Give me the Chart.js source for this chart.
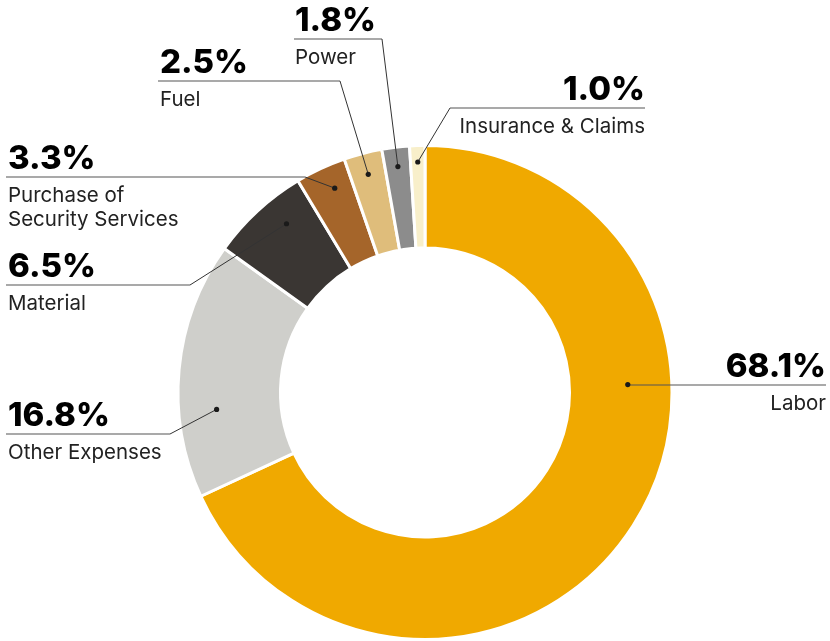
<!DOCTYPE html>
<html>
<head>
<meta charset="utf-8">
<script src="https://cdn.jsdelivr.net/npm/chart.js@4.4.1/dist/chart.umd.min.js"></script>
<style>
    html, body { margin: 0; padding: 0; background: #fff; }
    #costChart { display: block; }
</style>
</head>
<body>
<canvas id="costChart" width="830" height="641"></canvas>
<script>
// Cost breakdown (share of total, %)
const categories = ['Labor', 'Other Expenses', 'Material', 'Purchase of\nSecurity Services', 'Fuel', 'Power', 'Insurance & Claims'];
const shares = [68.1, 16.8, 6.5, 3.3, 2.5, 1.8, 1.0];
const shareLabels = ['68.1%', '16.8%', '6.5%', '3.3%', '2.5%', '1.8%', '1.0%'];
const colors = ['#f0a900', '#cfcfcb', '#3a3633', '#a5652a', '#dfbd7b', '#8c8c8c', '#f8efca'];

// where each callout sits (text block + underline), and where on the slice the dot goes
const callouts = [
    { align: 'right', tx: 826, uy: 385, ux1: 628, ux2: 826, elbow: 628, af: 0.358, rf: 0.57 },
    { align: 'left',  tx: 8,   uy: 434, ux1: 6,   ux2: 170, elbow: 170, af: 0.334, rf: 0.63 },
    { align: 'left',  tx: 8,   uy: 285, ux1: 6,   ux2: 190, elbow: 190, af: 0.64,  rf: 0.72 },
    { align: 'left',  tx: 8,   uy: 177, ux1: 6,   ux2: 305, elbow: 305, af: 0.6,   rf: 0.77 },
    { align: 'left',  tx: 160, uy: 81,  ux1: 158, ux2: 340, elbow: 340, af: 0.5,   rf: 0.79 },
    { align: 'left',  tx: 295, uy: 39,  ux1: 294, ux2: 382, elbow: 382, af: 0.5,   rf: 0.81 },
    { align: 'right', tx: 645, uy: 108, ux1: 450, ux2: 645, elbow: 450, af: 0.5,   rf: 0.84 }
];

const calloutPlugin = {
    id: 'callouts',
    afterDraw(chart) {
        const ctx = chart.ctx;
        const arcs = chart.getDatasetMeta(0).data;
        ctx.save();
        arcs.forEach((arc, i) => {
            const c = callouts[i];
            const p = arc.getProps(['x', 'y', 'startAngle', 'endAngle', 'innerRadius', 'outerRadius'], true);
            const a = p.startAngle + c.af * (p.endAngle - p.startAngle);
            const r = p.innerRadius + c.rf * (p.outerRadius - p.innerRadius);
            const dx = p.x + Math.cos(a) * r;
            const dy = p.y + Math.sin(a) * r;

            // underline
            ctx.strokeStyle = '#555';
            ctx.lineWidth = 1.2;
            ctx.beginPath();
            ctx.moveTo(c.ux1, c.uy);
            ctx.lineTo(c.ux2, c.uy);
            ctx.stroke();

            // leader to the slice
            ctx.strokeStyle = '#333';
            ctx.lineWidth = 1;
            ctx.beginPath();
            ctx.moveTo(c.elbow, c.uy);
            ctx.lineTo(dx, dy);
            ctx.stroke();

            ctx.fillStyle = '#1a1a1a';
            ctx.beginPath();
            ctx.arc(dx, dy, 2.6, 0, Math.PI * 2);
            ctx.fill();

            // texts
            ctx.textAlign = c.align;
            ctx.textBaseline = 'alphabetic';
            ctx.fillStyle = '#000';
            ctx.font = '800 33px Inter';
            ctx.fillText(shareLabels[i], c.tx, c.uy - 8);

            ctx.fillStyle = '#222';
            ctx.font = '400 20.5px Inter';
            categories[i].split('\n').forEach((line, k) => {
                ctx.fillText(line, c.tx, c.uy + 25 + k * 24);
            });
        });
        ctx.restore();
    }
};

Promise.all([
    document.fonts.load('800 33px Inter'),
    document.fonts.load('400 20.5px Inter')
]).finally(() => {
    const ctx = document.getElementById('costChart').getContext('2d');
    new Chart(ctx, {
        type: 'doughnut',
        data: {
            labels: categories,
            datasets: [{
                data: shares,
                backgroundColor: colors,
                borderColor: '#ffffff',
                borderWidth: 3
            }]
        },
        options: {
            responsive: false,
            animation: false,
            cutout: '58.5%',
            layout: {
                padding: { left: 176, right: 156, top: 144, bottom: 0 }
            },
            plugins: {
                legend: { display: false },
                tooltip: { enabled: false }
            }
        },
        plugins: [calloutPlugin]
    });
});
</script>
</body>
</html>
